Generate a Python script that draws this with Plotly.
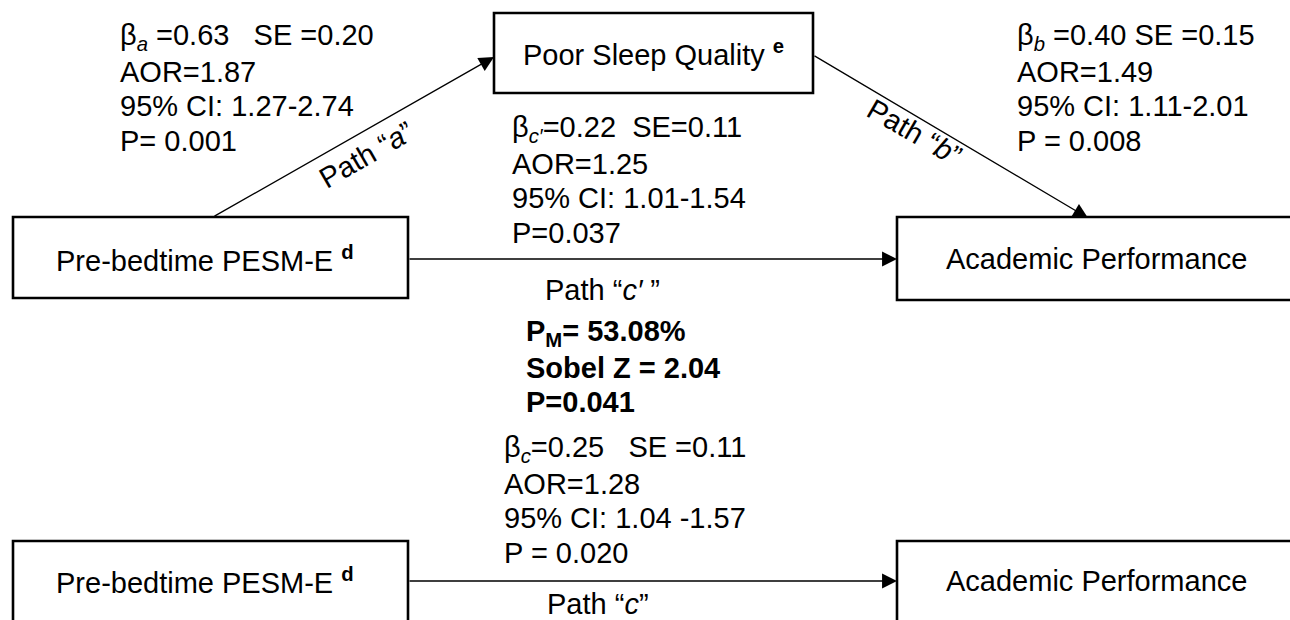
import plotly.graph_objects as go

# ---- content (statistics / labels) ----
node_labels = ["Pre-bedtime PESM-E <b><sup>d</sup></b>", "Poor Sleep Quality <b><sup>e</sup></b>",
               "Academic Performance"]
path_a_lines = ["β<sub><i>a</i></sub> =0.63   SE =0.20", "AOR=1.87", "95% CI: 1.27-2.74", "P= 0.001"]
path_b_lines = ["β<sub><i>b</i></sub> =0.40 SE =0.15", "AOR=1.49", "95% CI: 1.11-2.01", "P = 0.008"]
path_cp_lines = ["β<sub><i>c′</i></sub>=0.22  SE=0.11", "AOR=1.25", "95% CI: 1.01-1.54", "P=0.037"]
path_c_lines = ["β<sub><i>c</i></sub>=0.25   SE =0.11", "AOR=1.28", "95% CI: 1.04 -1.57", "P = 0.020"]
mediation_lines = ["<b>P<sub>M</sub>= 53.08%</b>", "<b>Sobel Z = 2.04</b>", "<b>P=0.041</b>"]
path_names = ["Path “<i>a</i>”", "Path “<i>b</i>”", "Path “<i>c′</i> ”", "Path “<i>c</i>”"]

W, H = 1290, 620
FONT = "Liberation Sans, Arial, sans-serif"
FS = 29
LS = 34.5

fig = go.Figure()
fig.add_trace(go.Scatter(x=[0, W], y=[0, H], mode="markers", marker=dict(opacity=0),
                         hoverinfo="skip", showlegend=False))

shapes = []
annotations = []


def box(x0, y0, x1, y1, label, tx, ty):
    shapes.append(dict(type="rect", xref="x", yref="y", x0=x0, y0=y0, x1=x1, y1=y1,
                       line=dict(color="black", width=2.6), fillcolor="white", layer="below"))
    annotations.append(dict(x=tx, y=ty, xref="x", yref="y", text=label, showarrow=False,
                            xanchor="center", yanchor="middle",
                            font=dict(family=FONT, size=FS, color="black")))


def block(lines, x, y0):
    for i, t in enumerate(lines):
        annotations.append(dict(x=x, y=y0 + i * LS, xref="x", yref="y", text=t, showarrow=False,
                                xanchor="left", yanchor="middle",
                                font=dict(family=FONT, size=FS, color="black")))


def arrow(x0, y0, x1, y1):
    annotations.append(dict(x=x1, y=y1, ax=x0, ay=y0, xref="x", yref="y", axref="x", ayref="y",
                            text="", showarrow=True, arrowhead=2, arrowsize=2.3, arrowwidth=1.3,
                            arrowcolor="black", standoff=0, startstandoff=0))


def label(t, x, y, angle=0):
    annotations.append(dict(x=x, y=y, xref="x", yref="y", text=t, showarrow=False,
                            textangle=angle, xanchor="center", yanchor="middle",
                            font=dict(family=FONT, size=FS, color="black")))


# boxes
box(13, 217, 408, 298, node_labels[0], 205, 259)
box(494, 13, 813, 93, node_labels[1], 653, 53)
box(897, 217, 1400, 300, node_labels[2], 1096, 259)
box(13, 541, 408, 640, node_labels[0], 205, 581)
box(897, 541, 1400, 640, node_labels[2], 1096, 581)

# arrows
arrow(213, 217, 494, 57)
arrow(813, 55, 1088, 218)
arrow(408, 259, 897, 259)
arrow(408, 581, 897, 581)

# text blocks
block(path_a_lines, 118, 37)
block(path_b_lines, 1015, 37)
block(path_cp_lines, 510, 129)
block(mediation_lines, 524, 333)
block(path_c_lines, 502, 449)

# path labels
label(path_names[0], 366, 155, -30)
label(path_names[1], 914, 132, 30)
label(path_names[2], 602, 290)
label(path_names[3], 598, 604)

fig.update_layout(
    width=W, height=H,
    margin=dict(l=0, r=0, t=0, b=0),
    paper_bgcolor="white", plot_bgcolor="white",
    xaxis=dict(range=[0, W], visible=False, fixedrange=True),
    yaxis=dict(range=[H, 0], visible=False, fixedrange=True),
    shapes=shapes, annotations=annotations, showlegend=False,
    hovermode=False,
)

fig.write_html(
    "out.html",
    config={"displayModeBar": False, "staticPlot": True},
    post_script="document.body.style.margin='0';document.body.style.overflow='hidden';",
)
